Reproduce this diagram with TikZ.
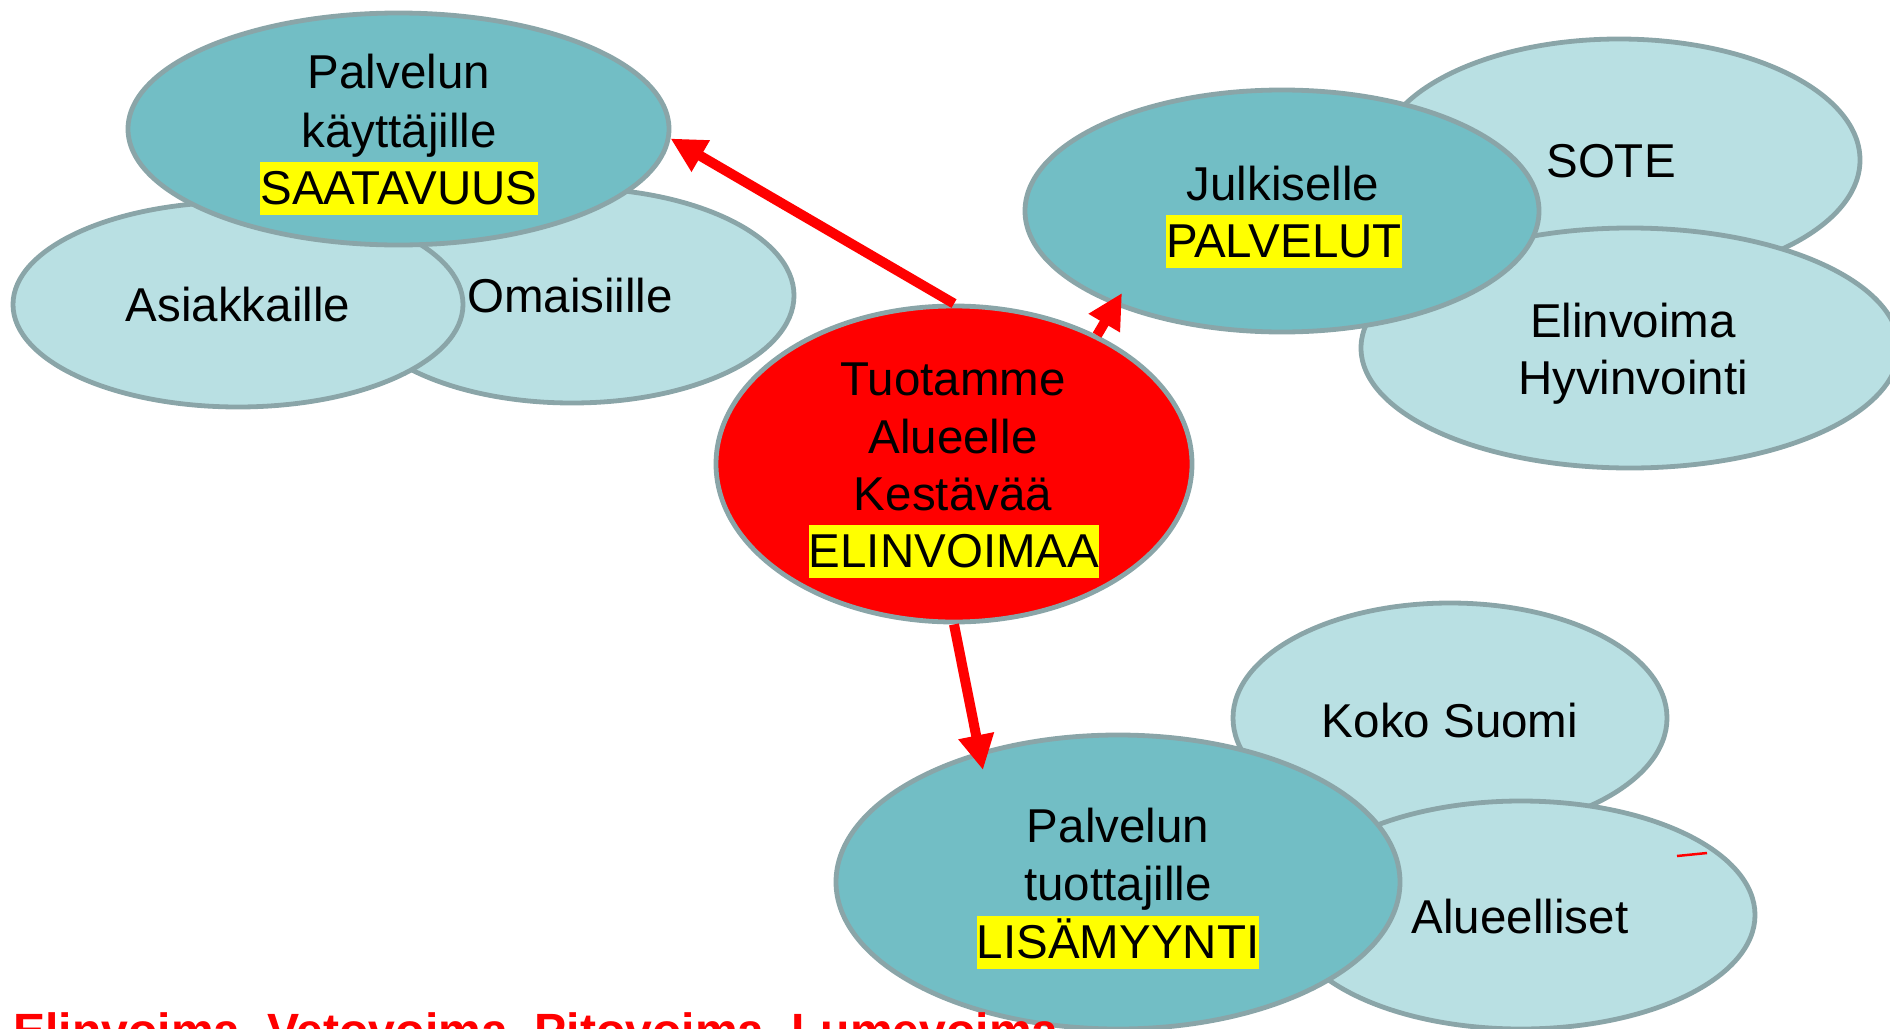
\documentclass[tikz,border=0pt]{standalone}
\usepackage{fontspec}
\setmainfont{Liberation Sans}
\usetikzlibrary{shapes.geometric,arrows.meta}
\definecolor{edgec}{HTML}{8AA5A8}
\definecolor{lightc}{HTML}{B9E0E3}
\definecolor{darkc}{HTML}{72BEC5}
\definecolor{hlyellow}{HTML}{FFFF00}
\newcommand\hlbox[1]{{\setlength{\fboxsep}{0pt}\colorbox{hlyellow}{\rule[-0.23em]{0pt}{1.114em}#1}}}
\begin{document}
\begin{tikzpicture}[x=0.5pt,y=-0.5pt,
  ell/.style={ellipse, draw=edgec, line width=2.4pt, inner sep=0pt},
  light/.style={ell, fill=lightc},
  dark/.style={ell, fill=darkc},
  core/.style={ell, fill=red},
  lbl/.style={anchor=base, inner sep=0pt, font=\fontsize{23.75}{28.5}\selectfont},
  conn/.style={draw=red, line width=5pt, -{Triangle[length=17.5pt,width=17pt]}}]
\useasboundingbox (0,0) rectangle (1890,1028);
\clip (0,0) rectangle (1890,1028);

% left group
\node[light, minimum width=222pt, minimum height=107.5pt] (omai) at (572,295.5) {};
\node[light, minimum width=225pt, minimum height=102.5pt] (asia) at (238,304.5) {};
\node[dark, minimum width=270.5pt, minimum height=116pt] (kayt) at (398.5,129) {};

% right group
\node[light, minimum width=241pt, minimum height=121pt] (sote) at (1619,160) {};
\node[light, minimum width=269pt, minimum height=120pt] (elin) at (1630,348) {};
\node[dark, minimum width=257pt, minimum height=121pt] (julk) at (1282,211) {};

% bottom group
\node[light, minimum width=217pt, minimum height=115pt] (koko) at (1450,718) {};
\node[light, minimum width=234pt, minimum height=114pt] (alue) at (1521,915) {};
\node[dark, minimum width=282pt, minimum height=147pt] (tuot) at (1118,882) {};

% centre
\node[core, minimum width=238pt, minimum height=158pt] (core) at (954,464) {};

% labels
\node[lbl] (t1a) at (399,88) {Palvelun};
\node[lbl] (t1b) at (399,147) {käyttäjille};
\node[lbl] (t1c) at (399,204) {\hlbox{SAATAVUUS}};
\node[lbl] (t2) at (238,321) {Asiakkaille};
\node[lbl] (t3) at (570,312) {Omaisiille};
\node[lbl] (t4a) at (1283,200) {Julkiselle};
\node[lbl] (t4b) at (1284,257) {\hlbox{PALVELUT}};
\node[lbl] (t5) at (1611,177) {SOTE};
\node[lbl] (t6a) at (1633,337) {Elinvoima};
\node[lbl] (t6b) at (1633,394) {Hyvinvointi};
\node[lbl] (t7a) at (953,395) {Tuotamme};
\node[lbl] (t7b) at (953,453) {Alueelle};
\node[lbl] (t7c) at (953,510) {Kestävää};
\node[lbl] (t7d) at (954,567) {\hlbox{ELINVOIMAA}};
\node[lbl] (t8) at (1450,737) {Koko Suomi};
\node[lbl] (t9a) at (1118,842) {Palvelun};
\node[lbl] (t9b) at (1118,900) {tuottajille};
\node[lbl] (t9c) at (1118,958) {\hlbox{LISÄMYYNTI}};
\node[lbl] (t10) at (1520,933) {Alueelliset};
\node[lbl, anchor=base west, text=red, font=\fontsize{24.05}{28.5}\selectfont\bfseries] (motto) at (13,1047) {Elinvoima, Vetovoima, Pitovoima, Lumevoima};

% connectors
\coordinate (tipB) at (1122,293);
\coordinate (tipC) at (983,770);
\draw[conn] (core.north) -- (kayt.-2.1);
\draw[conn] (core.42.8) -- (tipB);
\draw[conn] (core.south) -- (tipC);

% stray mark
\coordinate (m1) at (1677,856);
\coordinate (m2) at (1707,853);
\draw[red, line width=1.25pt] (m1) -- (m2);
\end{tikzpicture}
\end{document}
